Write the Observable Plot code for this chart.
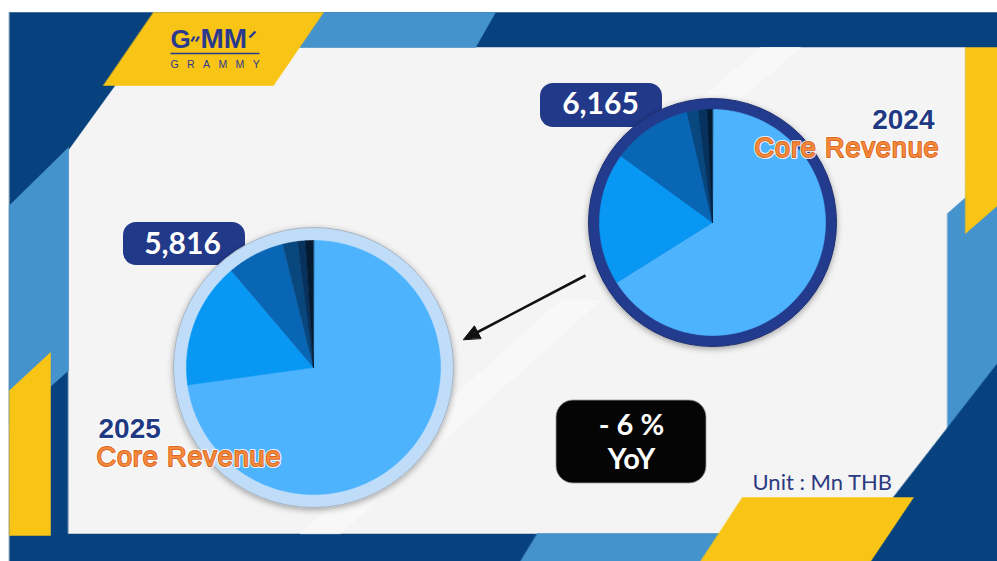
<!DOCTYPE html>
<html>
<head>
<meta charset="utf-8">
<script src="https://cdn.jsdelivr.net/npm/d3@7"></script>
<script src="https://cdn.jsdelivr.net/npm/@observablehq/plot@0.6"></script>
<style>
  html, body { margin: 0; padding: 0; background: #ffffff; }
  #chart { width: 997px; height: 561px; }
</style>
</head>
<body>
<div id="chart"></div>
<script>
// ---------------- DATA ----------------
const years = ["2024", "2025"];
const totals = [6165, 5816];                       // Core revenue, Mn THB
const segments = ["Segment 1", "Segment 2", "Segment 3", "Segment 4", "Segment 5", "Segment 6"];
const values2024 = [4075, 1165, 703, 99, 80, 43];  // (sum 6,165)
const values2025 = [4234, 931, 425, 110, 58, 58];  // (sum 5,816)
const subtitleText = "Core Revenue";
const unitText = "Unit : Mn THB";
const yoyText = "YoY";
const logoText = ["G", "MM", "GRAMMY"];

// ---------------- STYLE / LAYOUT ----------------
const W = 997, H = 561;
const segmentColors = ["#4db3fd", "#0898f4", "#0966b4", "#09487f", "#07325e", "#041a31"];
const COL = {
  dark: "#07427f", light: "#4493cd", yellow: "#f8c415", panel: "#f4f4f4",
  navy: "#22398a", orange: "#f58a3d", orangeEdge: "#d9661f", logo: "#2b3a8f"
};
const shapes = [
  {fill: COL.dark,   pts: [[9,12],[997,12],[997,561],[9,561]]},
  {fill: COL.panel,  pts: [[68,150],[115,85],[140,47],[965,47],[965,533],[68,533]]},
  {fill: "#f8f8f8",  pts: [[300,533],[560,300],[600,300],[340,533]]},
  {fill: "#f8f8f8",  pts: [[640,150],[760,47],[800,47],[680,150]]},
  {fill: COL.light,  pts: [[323,12],[495,12],[475,47],[299,47]]},
  {fill: COL.yellow, pts: [[153,12],[323,12],[273,85],[103,85]]},
  {fill: COL.light,  pts: [[9,205],[68,147],[68,370],[50,386],[9,425]]},
  {fill: COL.yellow, pts: [[9,390],[50,352],[50,535],[9,535]]},
  {fill: COL.light,  pts: [[947,213],[997,169],[997,400],[947,440]]},
  {fill: COL.yellow, pts: [[965,47],[997,47],[997,205],[965,233]]},
  {fill: COL.dark,   pts: [[997,363],[997,561],[843,561]]},
  {fill: COL.light,  pts: [[537,533],[760,533],[740,561],[520,561]]},
  {fill: COL.yellow, pts: [[742,497],[913,497],[870,561],[700,561]]}
];
const pies = [
  {cx: 712, cy: 222, r: 113, ring: 124, ringFill: "#243b8c", ringStroke: "#1d2f72",
   pill: {x1: 540, x2: 662, y1: 83, y2: 127, tx: 600, ty: 113},
   year: {x: 934, y: 128, anchor: "end"}, sub: {x: 939, y: 156, anchor: "end"}},
  {cx: 313, cy: 367, r: 127, ring: 140, ringFill: "#bfdcf9", ringStroke: "#a9b4c0",
   pill: {x1: 123, x2: 245, y1: 222, y2: 265, tx: 182, ty: 253},
   year: {x: 98, y: 437, anchor: "start"}, sub: {x: 96, y: 465, anchor: "start"}}
];
const arrowLayout = {x1: 585, y1: 275, x2: 463, y2: 339, head: 16, half: 7};
const yoyBox = {x1: 556, x2: 706, y1: 400, y2: 483, cx: 631, y1Text: 434, y2Text: 468};
const unitPos = {x: 752, y: 489};

// ---------------- DERIVED ----------------
const allValues = [values2024, values2025];
const fmt = d3.format(",");
const yoy = Math.round((totals[1] - totals[0]) / totals[0] * 100);
const yoyLabel = `${yoy < 0 ? "-" : "+"} ${Math.abs(yoy)} %`;

const shapeRows = shapes.flatMap((s, i) => s.pts.map(([x, y]) => ({k: i, x, y, fill: s.fill})));

function sliceRows(values, p, yi) {
  const arcs = d3.pie().sort(null).value(d => d)(values);
  const rows = [];
  arcs.forEach((a, i) => {
    const n = Math.max(2, Math.ceil((a.endAngle - a.startAngle) / (Math.PI / 180)));
    const k = yi * 10 + i;
    rows.push({k, x: p.cx, y: p.cy, fill: segmentColors[i], segment: segments[i], value: values[i]});
    for (let j = 0; j <= n; j++) {
      const t = a.startAngle + (a.endAngle - a.startAngle) * j / n;
      rows.push({k, x: p.cx + p.r * Math.sin(t), y: p.cy - p.r * Math.cos(t), fill: segmentColors[i], segment: segments[i], value: values[i]});
    }
  });
  return rows;
}
const sliceData = pies.flatMap((p, yi) => sliceRows(allValues[yi], p, yi));

// arrow head triangle
const A = arrowLayout;
const dx = A.x2 - A.x1, dy = A.y2 - A.y1, len = Math.hypot(dx, dy);
const ux = dx / len, uy = dy / len;
const bx = A.x2 - ux * A.head, by = A.y2 - uy * A.head;
const headRows = [
  {x: A.x2, y: A.y2},
  {x: bx - uy * A.half, y: by + ux * A.half},
  {x: bx + uy * A.half, y: by - ux * A.half}
];
const shaftRows = [{x1: A.x1, y1: A.y1, x2: bx + ux * 2, y2: by + uy * 2}];

const pillRows = pies.map((p, i) => ({...p.pill, label: fmt(totals[i])}));

const marks = [];
// background decoration
marks.push(Plot.line(shapeRows, {x: "x", y: "y", z: "k", fill: "fill", stroke: "fill", strokeWidth: 0.5, curve: "linear-closed"}));

// logo
marks.push(Plot.text([logoText[0]], {x: () => 170, y: () => 47, text: d => d, fontFamily: "Liberation Sans", fontWeight: 700, fontSize: 26, fill: COL.logo, textAnchor: "start", lineAnchor: "bottom"}));
marks.push(Plot.text([logoText[1]], {x: () => 200, y: () => 47, text: d => d, fontFamily: "Liberation Sans", fontWeight: 700, fontSize: 28, fill: COL.logo, textAnchor: "start", lineAnchor: "bottom"}));
marks.push(Plot.link([{x1:191,y1:41,x2:194,y2:36},{x1:195.5,y1:41,x2:198.5,y2:36},{x1:249,y1:37,x2:255,y2:31}], {x1:"x1",y1:"y1",x2:"x2",y2:"y2", stroke: COL.logo, strokeWidth: 2.4}));
marks.push(Plot.link([{x1:170,y1:53,x2:259,y2:53}], {x1:"x1",y1:"y1",x2:"x2",y2:"y2", stroke: COL.logo, strokeWidth: 1.4}));
marks.push(Plot.text([logoText[2]], {x: () => 170, y: () => 67, text: d => d, fontFamily: "Liberation Sans", fontWeight: 400, fontSize: 10.5, fill: COL.logo, textAnchor: "start", lineAnchor: "bottom"}));

// pills (behind pies)
marks.push(Plot.rect(pillRows, {x1: "x1", x2: "x2", y1: "y1", y2: "y2", fill: COL.navy, rx: 13}));
marks.push(Plot.text(pillRows, {x: "tx", y: "ty", text: "label", fontFamily: "Lato", fontWeight: 700, fontSize: 30, fill: "#ffffff", textAnchor: "middle", lineAnchor: "bottom"}));

// pie rings (constant pixel radius)
pies.forEach(p => {
  marks.push(Plot.dot([p], {x: "cx", y: "cy", r: p.ring, fill: p.ringFill, stroke: p.ringStroke, strokeWidth: 1}));
});
// pie slices
marks.push(Plot.line(sliceData, {x: "x", y: "y", z: "k", fill: "fill", stroke: "fill", strokeWidth: 0.6, curve: "linear-closed", title: d => `${d.segment}: ${fmt(d.value)}`}));

// arrow
marks.push(Plot.link(shaftRows, {x1: "x1", y1: "y1", x2: "x2", y2: "y2", stroke: "#111111", strokeWidth: 2.6}));
marks.push(Plot.line(headRows, {x: "x", y: "y", fill: "#111111", stroke: "#111111", strokeWidth: 1, curve: "linear-closed"}));

// year titles
pies.forEach((p, i) => {
  marks.push(Plot.text([years[i]], {x: () => p.year.x, y: () => p.year.y, text: d => d, fontFamily: "Liberation Sans", fontWeight: 700, fontSize: 28, fill: "#1f3a82", stroke: "#ffffff", strokeWidth: 2, textAnchor: p.year.anchor, lineAnchor: "bottom"}));
  marks.push(Plot.text([subtitleText], {x: () => p.sub.x, y: () => p.sub.y, text: d => d, fontFamily: "Liberation Sans", fontWeight: 400, fontSize: 27, fill: COL.orange, stroke: "#ffffff", strokeWidth: 4, strokeOpacity: 0.85, textAnchor: p.sub.anchor, lineAnchor: "bottom"}));
  marks.push(Plot.text([subtitleText], {x: () => p.sub.x, y: () => p.sub.y, text: d => d, fontFamily: "Liberation Sans", fontWeight: 400, fontSize: 27, fill: COL.orange, stroke: COL.orangeEdge, strokeWidth: 1.8, textAnchor: p.sub.anchor, lineAnchor: "bottom"}));
});

// YoY box
marks.push(Plot.rect([yoyBox], {x1: "x1", x2: "x2", y1: "y1", y2: "y2", fill: "#050505", stroke: "#9a9a9a", strokeWidth: 0.8, rx: 17}));
marks.push(Plot.text([yoyLabel], {x: () => yoyBox.cx, y: () => yoyBox.y1Text, text: d => d, fontFamily: "Lato", fontWeight: 700, fontSize: 29, fill: "#ffffff", textAnchor: "middle", lineAnchor: "bottom"}));
marks.push(Plot.text([yoyText], {x: () => yoyBox.cx, y: () => yoyBox.y2Text, text: d => d, fontFamily: "Lato", fontWeight: 700, fontSize: 29, fill: "#ffffff", textAnchor: "middle", lineAnchor: "bottom"}));

// unit
marks.push(Plot.text([unitText], {x: () => unitPos.x, y: () => unitPos.y, text: d => d, fontFamily: "Lato", fontWeight: 400, fontSize: 22, fill: "#2c3a82", textAnchor: "start", lineAnchor: "bottom"}));

const chart = Plot.plot({
  width: W, height: H, margin: 0,
  x: {domain: [0, W], axis: null},
  y: {domain: [0, H], reverse: true, axis: null},
  color: {type: "identity"},
  style: {background: "#ffffff", overflow: "visible"},
  marks
});

// finishing touches: letter spacing and soft shadows
const svg = d3.select(chart);
const byText = t => svg.selectAll("text").filter(function() { return this.textContent === t; });
byText(logoText[2]).style("letter-spacing", "8.4px");
byText(subtitleText).style("letter-spacing", "0.9px");
const defs = svg.insert("defs", ":first-child");
const f = defs.append("filter").attr("id", "pieShadow").attr("x", "-20%").attr("y", "-20%").attr("width", "140%").attr("height", "140%");
f.append("feDropShadow").attr("dx", 0).attr("dy", 2).attr("stdDeviation", 3).attr("flood-color", "#000").attr("flood-opacity", 0.35);
svg.selectAll("circle").attr("filter", "url(#pieShadow)");

document.getElementById("chart").appendChild(chart);
</script>
</body>
</html>
